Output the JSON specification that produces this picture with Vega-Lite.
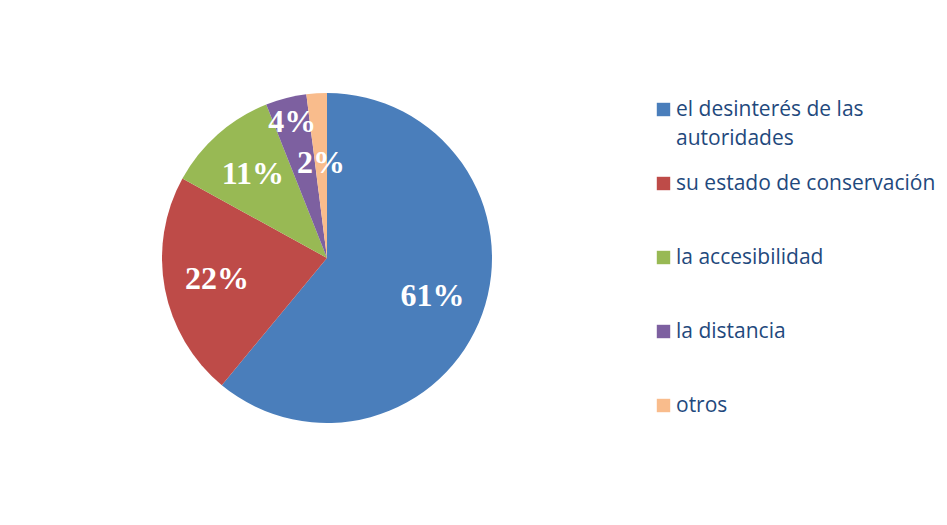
{
  "$schema": "https://vega.github.io/schema/vega-lite/v6.json",
  "width": 654,
  "height": 516,
  "padding": 0,
  "autosize": {"type": "pad"},
  "background": "white",
  "config": {"view": {"stroke": null}, "style": {"guide-label": {"lineHeight": 29}}},
  "data": {
    "values": [
      {"cat": "el desinterés de las autoridades", "pct": 61, "order": 1, "label": "61%"},
      {"cat": "su estado de conservación", "pct": 22, "order": 2, "label": "22%"},
      {"cat": "la accesibilidad", "pct": 11, "order": 3, "label": "11%"},
      {"cat": "la distancia", "pct": 4, "order": 4, "label": "4%"},
      {"cat": "otros", "pct": 2, "order": 5, "label": "2%"}
    ]
  },
  "encoding": {
    "theta": {"field": "pct", "type": "quantitative", "stack": true},
    "order": {"field": "order", "type": "quantitative"},
    "color": {
      "field": "cat",
      "type": "nominal",
      "sort": ["el desinterés de las autoridades", "su estado de conservación", "la accesibilidad", "la distancia", "otros"],
      "scale": {
        "domain": ["el desinterés de las autoridades", "su estado de conservación", "la accesibilidad", "la distancia", "otros"],
        "range": ["#4A7EBB", "#BE4B48", "#98B954", "#7D60A0", "#F9BC8C"]
      },
      "legend": {
        "title": null,
        "orient": "none",
        "legendX": 653,
        "legendY": 99,
        "gridAlign": "all",
        "symbolType": "square",
        "symbolSize": 180,
        "symbolStrokeWidth": 0,
        "labelFont": "Open Sans",
        "labelFontSize": 21,
        "labelBaseline": "middle",
        "labelColor": "#1F497D",
        "labelLimit": 320,
        "labelOffset": 2,
        "rowPadding": 23,
        "labelExpr": "datum.label == 'el desinterés de las autoridades' ? ['el desinterés de las', 'autoridades'] : datum.label"
      }
    }
  },
  "layer": [
    {"mark": {"type": "arc", "outerRadius": 165, "stroke": null}},
    {
      "mark": {
        "type": "text",
        "font": "Liberation Serif",
        "fontWeight": "bold",
        "fontSize": 32,
        "fill": "white",
        "radius": {"expr": "datum.order == 4 ? 140 : datum.order == 5 ? 95 : 112"}
      },
      "encoding": {"text": {"field": "label"}, "color": {"value": "white"}}
    }
  ]
}
